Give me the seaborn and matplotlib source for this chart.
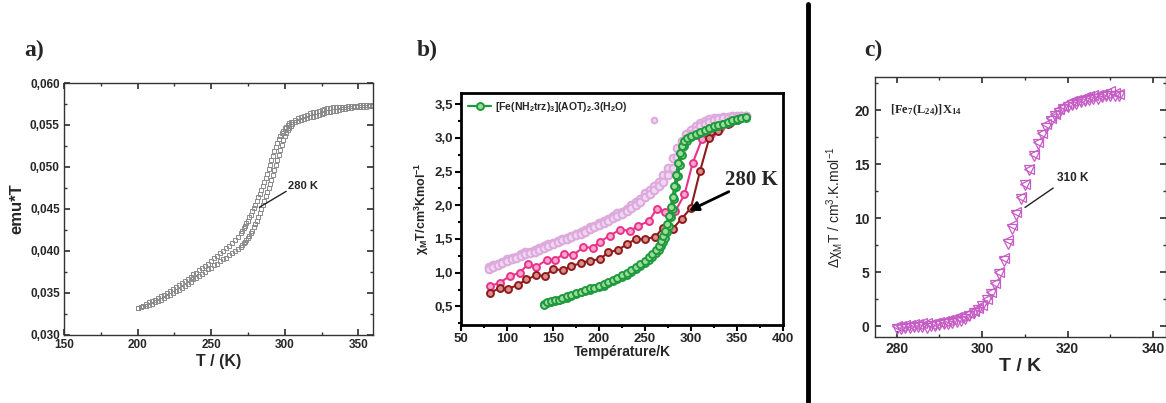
import numpy as np
import pandas as pd
import seaborn as sns
import matplotlib
matplotlib.use("Agg")
from matplotlib import pyplot as plt
from matplotlib.lines import Line2D
from matplotlib.ticker import MultipleLocator, FuncFormatter

# ---------------- panel a) emu*T vs T, two branches ----------------
a_temp = [200, 202, 204, 206, 208, 210, 212, 214, 216, 218, 220, 222, 224, 226, 228, 230,
          232, 234, 236, 238, 240, 242, 244, 246, 248, 250, 252, 254, 256, 258, 260, 262,
          264, 266, 268, 270,
          271, 272, 273, 274, 275, 276, 277, 278, 279, 280, 281, 282, 283, 284, 285, 286,
          287, 288, 289, 290, 291, 292, 293, 294, 295, 296, 297, 298, 299, 300, 301, 302,
          303, 304, 305,
          307, 309, 311, 313, 315, 317, 319, 321, 323, 325, 327, 329, 331, 333, 335, 337,
          339, 341, 343, 345, 347, 349, 351, 353, 355, 357, 359]
a_cool = [0.0332, 0.0333, 0.0335, 0.0337, 0.0339, 0.0340, 0.0342, 0.0344, 0.0346, 0.0348,
          0.0350, 0.0352, 0.0355, 0.0357, 0.0360, 0.0362, 0.0364, 0.0367, 0.0369, 0.0372,
          0.0374, 0.0377, 0.0380, 0.0382, 0.0385, 0.0388, 0.0391, 0.0394, 0.0397, 0.0400,
          0.0403, 0.0406, 0.0409, 0.0413, 0.0417, 0.0421,
          0.0424, 0.0427, 0.0430, 0.0433, 0.0436, 0.0440, 0.0443, 0.0447, 0.0451, 0.0455,
          0.0459, 0.0464, 0.0468, 0.0473, 0.0477, 0.0482, 0.0487, 0.0492, 0.0497, 0.0502,
          0.0508, 0.0513, 0.0519, 0.0524, 0.0529, 0.0533, 0.0537, 0.0540, 0.0543, 0.0546,
          0.0548, 0.0550, 0.0552, 0.0553, 0.0554,
          0.0556, 0.0558, 0.0560, 0.0561, 0.0562, 0.0564, 0.0565, 0.0566, 0.0567, 0.0568,
          0.0569, 0.0570, 0.0570, 0.0571, 0.0571, 0.0572, 0.0572, 0.0572, 0.0573, 0.0573,
          0.0573, 0.0573, 0.0574, 0.0574, 0.0574, 0.0574, 0.0574]
a_heat = [0.0332, 0.0333, 0.0334, 0.0335, 0.0336, 0.0337, 0.0339, 0.0340, 0.0342, 0.0344,
          0.0346, 0.0348, 0.0350, 0.0352, 0.0354, 0.0356, 0.0358, 0.0361, 0.0363, 0.0366,
          0.0368, 0.0370, 0.0373, 0.0375, 0.0378, 0.0380, 0.0383, 0.0385, 0.0388, 0.0390,
          0.0392, 0.0395, 0.0397, 0.0400, 0.0402, 0.0405,
          0.0407, 0.0409, 0.0411, 0.0413, 0.0415, 0.0418, 0.0421, 0.0424, 0.0428, 0.0432,
          0.0436, 0.0441, 0.0445, 0.0450, 0.0455, 0.0460, 0.0465, 0.0470, 0.0475, 0.0480,
          0.0485, 0.0490, 0.0496, 0.0502, 0.0508, 0.0514, 0.0520, 0.0526, 0.0532, 0.0537,
          0.0541, 0.0544, 0.0547, 0.0549, 0.0551,
          0.0553, 0.0555, 0.0556, 0.0557, 0.0558, 0.0559, 0.0560, 0.0561, 0.0562, 0.0563,
          0.0564, 0.0565, 0.0566, 0.0567, 0.0567, 0.0568, 0.0569, 0.0569, 0.0570, 0.0570,
          0.0571, 0.0571, 0.0572, 0.0572, 0.0572, 0.0573, 0.0573]

# ---------------- panel b) chiT vs T, four samples ----------------
lav_temp = [80, 85, 90, 95, 100, 105, 110, 115, 120, 125, 130, 135, 140, 145, 150, 155, 160,
            165, 170, 175, 180, 185, 190, 195, 200, 205, 210, 215, 220, 225, 230, 235, 240,
            245, 250, 255, 260, 265, 270, 275, 280, 285, 290, 295, 300, 305, 310, 315, 320,
            325, 330, 335, 340, 345, 350, 355, 360]
lav_up = [1.08, 1.12, 1.13, 1.16, 1.20, 1.22, 1.24, 1.27, 1.30, 1.31, 1.33, 1.36, 1.40, 1.42,
          1.44, 1.47, 1.50, 1.52, 1.55, 1.58, 1.60, 1.63, 1.68, 1.70, 1.74, 1.77, 1.80, 1.84,
          1.88, 1.90, 1.95, 2.00, 2.05, 2.10, 2.18, 2.22, 2.28, 2.35, 2.45, 2.55, 2.70, 2.85,
          2.95, 3.05, 3.12, 3.18, 3.22, 3.25, 3.28, 3.29, 3.30, 3.31, 3.31, 3.32, 3.32, 3.32, 3.33]
lav_down = [1.05, 1.09, 1.11, 1.14, 1.17, 1.20, 1.22, 1.25, 1.27, 1.29, 1.31, 1.34, 1.37, 1.40,
            1.42, 1.45, 1.48, 1.50, 1.53, 1.56, 1.58, 1.61, 1.65, 1.68, 1.71, 1.74, 1.77, 1.81,
            1.84, 1.87, 1.91, 1.96, 2.00, 2.05, 2.12, 2.17, 2.22, 2.28, 2.35, 2.45, 2.55, 2.72,
            2.85, 2.98, 3.05, 3.12, 3.17, 3.21, 3.24, 3.26, 3.28, 3.29, 3.30, 3.31, 3.31, 3.32, 3.32]
lav_extra_t = [260]
lav_extra_v = [3.27]

pink_temp = [81, 92, 103, 114, 123, 132, 143, 152, 162, 172, 183, 193, 201, 212, 223, 234,
             243, 254, 263, 272, 283, 293, 302, 312, 322, 332, 342, 352]
pink_val = [0.80, 0.85, 0.95, 1.00, 1.13, 1.09, 1.19, 1.19, 1.28, 1.26, 1.38, 1.37, 1.46, 1.55,
            1.64, 1.62, 1.70, 1.76, 1.95, 1.90, 1.91, 2.16, 2.63, 2.98, 3.05, 3.15, 3.22, 3.28]

red_temp = [81, 92, 101, 112, 121, 132, 141, 150, 161, 170, 180, 190, 201, 210, 221, 230,
            240, 250, 261, 270, 280, 290, 300, 310, 320, 330, 340, 350]
red_val = [0.70, 0.77, 0.76, 0.82, 0.90, 0.96, 0.95, 1.05, 1.04, 1.10, 1.14, 1.18, 1.20, 1.30,
           1.34, 1.42, 1.50, 1.50, 1.53, 1.67, 1.65, 1.80, 1.96, 2.51, 3.00, 3.10, 3.20, 3.27]

green_temp = [140, 144, 148, 152, 156, 160, 165, 170, 175, 180, 185, 190, 195, 200, 205, 210,
              215, 220, 225, 230, 235, 240, 245, 250, 254, 258, 262, 265, 268, 270, 272, 274,
              276, 278, 280, 282, 284, 286, 288, 290, 293, 296, 300, 305, 310, 315, 320, 325,
              330, 335, 340, 345, 350, 355, 360]
green_cool = [0.52, 0.56, 0.58, 0.59, 0.60, 0.62, 0.65, 0.67, 0.70, 0.72, 0.75, 0.77, 0.78, 0.80,
              0.83, 0.86, 0.89, 0.92, 0.96, 1.00, 1.04, 1.09, 1.13, 1.18, 1.23, 1.28, 1.34, 1.40,
              1.47, 1.54, 1.62, 1.72, 1.84, 1.97, 2.12, 2.28, 2.45, 2.62, 2.77, 2.88, 2.96, 3.00,
              3.03, 3.06, 3.09, 3.12, 3.15, 3.17, 3.19, 3.21, 3.23, 3.26, 3.28, 3.30, 3.31]
green_heat = [0.53, 0.55, 0.57, 0.58, 0.60, 0.61, 0.63, 0.66, 0.68, 0.71, 0.73, 0.75, 0.77, 0.79,
              0.81, 0.84, 0.87, 0.90, 0.93, 0.97, 1.01, 1.05, 1.10, 1.15, 1.19, 1.24, 1.29, 1.34,
              1.40, 1.45, 1.52, 1.60, 1.70, 1.82, 1.95, 2.10, 2.27, 2.44, 2.60, 2.74, 2.88, 2.96,
              3.01, 3.04, 3.07, 3.10, 3.13, 3.16, 3.18, 3.20, 3.22, 3.25, 3.27, 3.29, 3.30]
green_label = r"[Fe(NH$_2$trz)$_3$](AOT)$_2$.3(H$_2$O)"

# ---------------- panel c) delta chiT vs T ----------------
c_temp = [280, 281, 282, 283, 284, 285, 286, 287, 288, 289, 290, 291, 292, 293, 294, 295, 296,
          297, 298, 299, 300, 301, 302, 303, 304, 305, 306, 307, 308, 309, 310, 311, 312, 313,
          314, 315, 316, 317, 318, 319, 320, 321, 322, 323, 324, 325, 326, 327, 328, 329, 330,
          331, 332]
c_left = [0.0, 0.0, 0.1, 0.1, 0.2, 0.2, 0.3, 0.3, 0.2, 0.3, 0.4, 0.5, 0.6, 0.7, 0.8, 0.9, 1.0,
          1.2, 1.4, 1.7, 2.0, 2.5, 3.2, 4.0, 5.0, 6.3, 8.0, 9.4, 10.6, 12.0, 13.2, 14.6, 16.0,
          17.1, 17.9, 18.7, 19.3, 19.7, 20.1, 20.4, 20.7, 20.9, 21.0, 21.1, 21.2, 21.3, 21.4,
          21.4, 21.5, 21.6, 21.8, 21.6, 21.5]
c_down = [-0.3, -0.3, -0.2, -0.2, -0.1, -0.1, -0.1, -0.2, 0.0, 0.0, 0.1, 0.2, 0.2, 0.3, 0.4,
          0.5, 0.7, 0.9, 1.2, 1.5, 1.9, 2.4, 3.0, 3.8, 4.8, 6.0, 7.6, 9.0, 10.3, 11.8, 13.1,
          14.5, 15.8, 16.9, 17.7, 18.4, 19.0, 19.5, 19.8, 20.1, 20.3, 20.5, 20.6, 20.8, 20.9,
          21.0, 21.1, 21.1, 21.2, 21.3, 21.3, 21.3, 21.3]
c_label = r"[Fe$_7$(L$_{24}$)]X$_{14}$"

sns.set_theme(style="ticks")
plt.rcParams['font.family'] = ['Liberation Sans', 'DejaVu Sans']
plt.rcParams['mathtext.fontset'] = 'custom'
plt.rcParams['mathtext.rm'] = 'Liberation Sans'
plt.rcParams['mathtext.it'] = 'Liberation Sans:italic'
plt.rcParams['mathtext.bf'] = 'Liberation Sans:bold'
plt.rcParams['mathtext.default'] = 'regular'

fig = plt.figure(figsize=(11.66, 4.03), dpi=100)
ax_a = fig.add_axes([0.0549, 0.169, 0.265, 0.625])
ax_b = fig.add_axes([0.3954, 0.194, 0.276, 0.576])
ax_c = fig.add_axes([0.7504, 0.164, 0.2496, 0.645])

comma = lambda dec: FuncFormatter(lambda v, p: f"{v:.{dec}f}".replace(".", ","))

# ---- a ----
df_a = pd.DataFrame({"T": a_temp, "cool": a_cool, "heat": a_heat})
for col in ["cool", "heat"]:
    sns.lineplot(data=df_a, x="T", y=col, ax=ax_a, estimator=None, sort=False, lw=0,
                 marker="s", ms=3.4, mfc="none", mec="#8a8a8a", mew=0.7, color="#8a8a8a")
ax_a.set_xlim(150, 360)
ax_a.set_ylim(0.030, 0.060)
ax_a.xaxis.set_major_locator(MultipleLocator(50))
ax_a.xaxis.set_minor_locator(MultipleLocator(25))
ax_a.yaxis.set_major_locator(MultipleLocator(0.005))
ax_a.yaxis.set_minor_locator(MultipleLocator(0.0025))
ax_a.yaxis.set_major_formatter(comma(3))
ax_a.tick_params(which="both", direction="in", top=True, right=True, color="#333333")
ax_a.tick_params(which="major", length=4, labelsize=8.5, pad=3)
ax_a.tick_params(which="minor", length=2.5)
for s in ax_a.spines.values():
    s.set_color("#333333")
    s.set_linewidth(1.0)
ax_a.set_xlabel("T / (K)", fontsize=11.5, fontweight="bold", labelpad=2)
ax_a.set_ylabel("emu*T", fontsize=12, fontweight="bold", labelpad=4)
ax_a.plot([301, 282.8], [0.0471, 0.0452], color="#222222", lw=1.0)
ax_a.text(302, 0.0477, "280 K", fontsize=8, fontweight="bold", va="center", ha="left")

# ---- b ----
lav_kw = dict(estimator=None, sort=False, lw=0, marker="o", mfc="#f1d6f1", mec="#ddaadd",
              mew=1.5, color="#ddaadd")
sns.lineplot(x=lav_temp, y=lav_up, ax=ax_b, ms=5.5, **lav_kw)
sns.lineplot(x=lav_temp, y=lav_down, ax=ax_b, ms=5.5, **lav_kw)
sns.lineplot(x=lav_extra_t, y=lav_extra_v, ax=ax_b, ms=4, **lav_kw)
sns.lineplot(x=pink_temp, y=pink_val, ax=ax_b, estimator=None, sort=False, lw=1.5,
             marker="o", ms=5, mfc="#f7a6cc", mec="#e8338c", mew=1.4, color="#e8338c")
sns.lineplot(x=red_temp, y=red_val, ax=ax_b, estimator=None, sort=False, lw=1.5,
             marker="o", ms=5, mfc="#d98c8c", mec="#8e1b1b", mew=1.4, color="#8e1b1b")
sns.lineplot(x=green_temp, y=green_heat, ax=ax_b, estimator=None, sort=False, lw=1.6,
             marker="o", ms=5, mfc="#9ddc9d", mec="#1e9a3c", mew=1.4, color="#1e9a3c")
sns.lineplot(x=green_temp, y=green_cool, ax=ax_b, estimator=None, sort=False, lw=1.6,
             marker="o", ms=5, mfc="#9ddc9d", mec="#1e9a3c", mew=1.4, color="#1e9a3c")
ax_b.legend(handles=[ax_b.lines[-1]], labels=[green_label], loc="upper left", frameon=False,
            prop={"weight": "bold", "size": 7.5}, handlelength=2.2, handletextpad=0.4,
            borderaxespad=0.3, bbox_to_anchor=(0.0, 1.0))
ax_b.set_xlim(50, 400)
ax_b.set_ylim(0.227, 3.67)
ax_b.xaxis.set_major_locator(MultipleLocator(50))
ax_b.xaxis.set_minor_locator(MultipleLocator(25))
ax_b.yaxis.set_major_locator(MultipleLocator(0.5))
ax_b.yaxis.set_minor_locator(MultipleLocator(0.25))
ax_b.yaxis.set_major_formatter(comma(1))
ax_b.tick_params(which="both", direction="out", color="black", width=1.5)
ax_b.tick_params(which="major", length=4, labelsize=9.5, pad=2)
ax_b.tick_params(which="minor", length=2.5)
for lab in ax_b.get_xticklabels() + ax_b.get_yticklabels():
    lab.set_fontweight("heavy")
for lab in ax_a.get_xticklabels() + ax_a.get_yticklabels():
    lab.set_fontweight("bold")
for s in ax_b.spines.values():
    s.set_color("black")
    s.set_linewidth(2.0)
ax_b.set_xlabel("Température/K", fontsize=10, fontweight="bold", labelpad=0)
ax_b.set_ylabel(r"$\chi_M$T/cm$^3$Kmol$^{-1}$", fontsize=9, fontweight="bold", labelpad=2)
ax_b.annotate("", xy=(295, 1.9), xytext=(344, 2.22),
              arrowprops=dict(arrowstyle="-|>", color="black", lw=2, mutation_scale=14))
ax_b.text(337, 2.37, "280 K", fontsize=15, fontweight="bold", va="center", ha="left",
          family=["Liberation Serif", "DejaVu Serif"])

# ---- c ----
sns.lineplot(x=c_temp, y=c_left, ax=ax_c, estimator=None, sort=False, lw=0, marker="<",
             ms=6.5, mfc="none", mec="#c65cc6", mew=0.9, color="#c65cc6")
sns.lineplot(x=c_temp, y=c_down, ax=ax_c, estimator=None, sort=False, lw=0, marker="v",
             ms=6.5, mfc="none", mec="#c65cc6", mew=0.9, color="#c65cc6")
ax_c.set_xlim(274.9, 343)
ax_c.set_ylim(-1, 23.1)
ax_c.xaxis.set_major_locator(MultipleLocator(20))
ax_c.xaxis.set_minor_locator(MultipleLocator(10))
ax_c.yaxis.set_major_locator(MultipleLocator(5))
ax_c.yaxis.set_minor_locator(MultipleLocator(2.5))
ax_c.tick_params(which="both", direction="in", top=True, right=True, color="#333333")
ax_c.tick_params(which="major", length=4, labelsize=10, pad=4)
ax_c.tick_params(which="minor", length=2.5)
for lab in ax_c.get_xticklabels() + ax_c.get_yticklabels():
    lab.set_fontweight("bold")
for s in ax_c.spines.values():
    s.set_color("#333333")
    s.set_linewidth(1.0)
ax_c.set_xlabel("T / K", fontsize=14, fontweight="bold", labelpad=1)
ax_c.set_ylabel(r"$\Delta\chi_M$T / cm$^3$.K.mol$^{-1}$", fontsize=10, labelpad=6)
ax_c.plot([316.6, 310.0], [12.8, 11.0], color="#222222", lw=1.0)
ax_c.text(317.4, 13.7, "310 K", fontsize=8.5, fontweight="bold", va="center", ha="left")
ax_c.text(278.5, 20.0, c_label, fontsize=9, fontweight="bold", va="center", ha="left",
          family=["Liberation Serif", "DejaVu Serif"])

# panel letters
for xf, lab in [(0.021, "a)"), (0.357, "b)"), (0.741, "c)")]:
    fig.text(xf, 0.86, lab, fontsize=17, fontweight="bold",
             family=["Liberation Serif", "DejaVu Serif"], va="baseline")

# divider
fig.add_artist(Line2D([808 / 1166, 808 / 1166], [0.0, 0.99], color="black", lw=3.5))

fig.savefig("out.png", dpi=100)
